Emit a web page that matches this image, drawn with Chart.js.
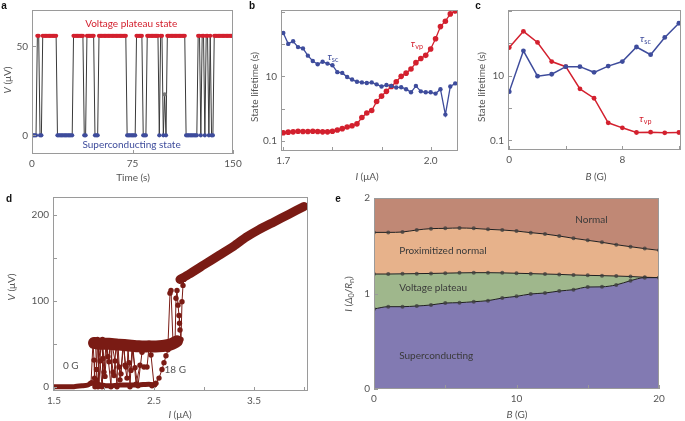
<!DOCTYPE html>
<html><head><meta charset="utf-8">
<script src="https://cdn.jsdelivr.net/npm/chart.js@4.4.1/dist/chart.umd.min.js"></script>
<style>
html,body{margin:0;padding:0;background:#fff;width:685px;height:421px;overflow:hidden}
canvas{position:absolute;left:0;top:0}
</style></head><body>
<canvas id="ca" width="685" height="421"></canvas>
<canvas id="cb" width="685" height="421"></canvas>
<canvas id="cc" width="685" height="421"></canvas>
<canvas id="cd" width="685" height="421"></canvas>
<canvas id="ce" width="685" height="421"></canvas>
<script>
// ---------------- DATA ----------------
// (a) voltage vs time, one sample per second (0..150 s)
const aStep = 1;
const aVoltage = [
 0,0,0,0,56,56,0,0,56,56,
 56,56,56,56,56,56,56,56,56,0,
 0,0,0,0,0,0,0,0,0,0,
 0,56,56,56,56,56,56,56,56,0,
 0,56,56,56,56,56,56,0,0,0,
 56,56,56,56,56,56,56,56,56,56,
 56,56,56,56,56,56,56,56,56,56,
 56,0,0,0,0,0,0,0,56,56,
 56,56,56,0,0,0,56,56,56,56,
 56,56,56,56,56,0,56,56,0,23,
 0,56,56,56,56,56,56,56,56,56,
 56,56,56,56,56,0,0,0,0,0,
 0,0,0,0,56,56,0,56,56,0,
 56,56,0,56,0,0,56,56,56,56,
 56,56,56,56,56,56,56,56,56,56,
 56];
const aXTicks = [0,75,150];
const aYTicks = [0,50];

// (b) state lifetime vs current
const bCurrent = [1.70,1.71,1.72,1.73,1.74,1.75,1.76,1.77,1.78,1.79,1.80,1.81,1.82,1.83,1.84,1.85,1.86,1.87,1.88,1.89,1.90,1.91,1.92,1.93,1.94,1.95,1.96,1.97,1.98,1.99,2.00,2.01,2.02,2.03,2.04,2.05];
const bTauSC = [222,102,123,81,74,44,30,23.8,28.5,24.9,22.2,13.5,12.8,9.55,7.95,6.8,6.5,6.2,6.5,5.65,4.82,5.4,5.05,4.5,4.6,4.0,3.2,5.05,3.43,3.2,3.2,2.92,4.0,0.65,4.82,6.05];
const bTauVP = [0.177,0.185,0.189,0.198,0.194,0.194,0.198,0.194,0.189,0.189,0.198,0.217,0.238,0.267,0.292,0.335,0.528,0.727,0.873,1.65,2.43,3.43,4.82,6.8,10,12.6,16.9,26.7,35.8,45,71,147,351,516,871,1070];
const bXTicks = [1.7,1.8,1.9,2.0];
const bXLabels = [1.7,2.0];

// (c) state lifetime vs field
const cField = [0,1,2,3,4,5,6,7,8,9,10,11,12];
const cTauSC = [3.2,58,9.6,11,18.8,18.8,12.6,19.6,27,76,44,150,410];
const cTauVP = [73,231,105,27,18.8,3.9,2.0,0.35,0.245,0.176,0.18,0.172,0.176];
const cXTicks = [0,4,8,12];
const cXLabels = [0,8];
const logTicks = [0.1,1,10,100,1000];
const logLabels = [0.1,10];

// (d) I-V curves, 0 G ... 18 G
const dBaseI = [1.50,1.60,1.70,1.78,1.84,1.88,1.91,1.96,2.05,2.15,2.25,2.35,2.45,2.51];
const dBaseV = [0,0,0,1,2,5,3,2,1,2,2,2,3,2];
const dPlatI = [1.90,1.95,2.05,2.15,2.25,2.35,2.45,2.55,2.62,2.68,2.73];
const dPlatV = [51,50,50,49,48,47,47,47,48,50,53];
const dUpI = [2.76,2.85,3.00,3.15,3.30,3.42,3.55,3.70,3.85,4.00];
const dUpV = [125,131,142,153,164,174,183,192,201,210];
const dSwLoI = [1.87,1.89,1.90,1.905,1.91,1.92,1.935,1.95,1.97,1.99,2.00,2.02,2.05,2.06,2.09,2.10,2.12,2.15,2.17,2.19,2.22,2.25,2.27,2.29,2.32,2.36,2.40,2.43,2.45,2.47,2.50];
const dSwLoV = [4,52,31,10,0,8,55,2,54,33,17,50,29,52,17,13,48,23,15,50,23,28,19,46,3,25,23,23,46,37,2];
const dSwLo2I = [1.915,1.925,1.94,1.945,1.96,1.98,1.985,2.01,2.03,2.04,2.07,2.08,2.11,2.13,2.14,2.16,2.20,2.21,2.23,2.24,2.26,2.28,2.31,2.34,2.38];
const dSwLo2V = [54,20,0,53,30,0,55,12,52,35,0,50,30,0,49,8,52,25,10,48,0,47,22,1,40];
const dSwHiI = [2.64,2.66,2.67,2.69,2.71,2.72,2.73,2.74,2.75,2.755,2.76,2.77,2.78,2.79,2.80];
const dSwHiV = [50,109,112,52,50,103,112,95,83,74,66,55,99,118,125];
const d18I = [2.48,2.52,2.55,2.58,2.60,2.62,2.64,2.66,2.68];
const d18V = [1,4,10,20,28,36,43,47,50];
const dXTicks = [1.5,2.0,2.5,3.0,3.5,4.0];
const dXLabels = [1.5,2.5,3.5];
const dYTicks = [0,50,100,150,200];
const dYLabels = [0,100,200];

// (e) phase diagram boundaries
const eField = [0,1,2,3,4,5,6,7,8,9,10,11,12,13,14,15,16,17,18,19,20];
const eLow = [0.838,0.862,0.862,0.869,0.88,0.90,0.904,0.914,0.925,0.953,0.97,0.995,1.005,1.026,1.04,1.068,1.07,1.09,1.134,1.166,1.166];
const eMid = [1.204,1.204,1.206,1.208,1.21,1.213,1.216,1.218,1.218,1.216,1.212,1.208,1.204,1.2,1.194,1.19,1.187,1.183,1.178,1.17,1.166];
const eTop = [1.64,1.64,1.644,1.665,1.679,1.682,1.686,1.682,1.672,1.665,1.654,1.637,1.623,1.602,1.578,1.557,1.536,1.511,1.49,1.47,1.452];
const eXTicks = [0,10,20];
const eYTicks = [0,1,2];

// ---------------- STYLE ----------------
const FONT = 'Lato, "Open Sans", sans-serif';
const TXT = '#555';
const FRAME = '#9a9a9a';
const RED = '#d3202e';
const BLUE = '#3e4c9c';
const MAROON = '#7a1b14';
Chart.defaults.font.family = FONT;
Chart.defaults.font.size = 10;
Chart.defaults.color = TXT;
Chart.defaults.animation = false;

function rich(ctx, parts, x, y, o) {
  o = o || {};
  const size = o.size || 10, fam = o.family || FONT;
  const has = (p, k) => p[1] && p[1].includes(k);
  const fontFor = p => `${has(p, 'i') ? 'italic ' : ''}${has(p, 'b') ? 'bold ' : ''}${has(p, 's') ? size * 0.72 : size}px ${fam}`;
  let w = 0;
  parts.forEach(p => { ctx.font = fontFor(p); w += ctx.measureText(p[0]).width; });
  ctx.save();
  ctx.translate(x, y);
  if (o.rot) ctx.rotate(o.rot);
  let cx = o.align === 'left' ? 0 : (o.align === 'right' ? -w : -w / 2);
  ctx.fillStyle = o.color || TXT;
  ctx.textBaseline = 'middle';
  ctx.textAlign = 'left';
  parts.forEach(p => {
    ctx.font = fontFor(p);
    ctx.fillText(p[0], cx, has(p, 's') ? size * 0.3 : 0);
    cx += ctx.measureText(p[0]).width;
  });
  ctx.restore();
}

const deco = {
  id: 'deco',
  afterDatasetsDraw(chart, args, o) {
    const { ctx, chartArea: a, scales } = chart;
    ctx.save();
    ctx.strokeStyle = FRAME; ctx.lineWidth = 1;
    const L = Math.round(a.left), T = Math.round(a.top), R = Math.round(a.right), B = Math.round(a.bottom);
    ctx.strokeRect(L + 0.5, T + 0.5, R - L - 1, B - T - 1);
    ctx.beginPath();
    (o.xTicks || []).forEach(v => {
      const px = Math.round(scales.x.getPixelForValue(v)) + 0.5;
      ctx.moveTo(px, B); ctx.lineTo(px, B - 4);
    });
    (o.yTicks || []).forEach(v => {
      const py = Math.round(scales.y.getPixelForValue(v)) + 0.5;
      ctx.moveTo(L, py); ctx.lineTo(L + 4, py);
    });
    ctx.stroke();
    ctx.restore();
    (o.texts || []).forEach(t => {
      rich(ctx, t.p, scales.x.getPixelForValue(t.x), scales.y.getPixelForValue(t.y), { color: t.c, align: t.align, size: t.size });
    });
  },
  afterDraw(chart, args, o) {
    const ctx = chart.ctx;
    (o.titles || []).forEach(t => rich(ctx, t.p, t.x, t.y, { rot: t.rot, size: t.size, color: t.c }));
    if (o.letter) rich(ctx, [[o.letter[0], 'b']], o.letter[1], o.letter[2], { color: '#111', size: 10, family: '"Liberation Sans", Arial, sans-serif' });
  }
};
Chart.register(deco);

function pad(L, T, R, B) { return { left: L - 30, top: T, right: 685 - R, bottom: 421 - B - 20 }; }
function axis(kind, min, max, labels, fmt, type) {
  return {
    type: type || 'linear', min, max,
    afterBuildTicks: s => { s.ticks = labels.map(v => ({ value: v })); },
    afterFit: s => { if (kind === 'x') s.height = 20; else s.width = 30; },
    grid: { display: false, drawTicks: false }, border: { display: false },
    ticks: { autoSkip: false, maxRotation: 0, padding: 4, color: TXT, font: { family: FONT, size: 10 }, callback: v => fmt(v) }
  };
}
function base(layout, xs, ys, decoOpts) {
  return {
    responsive: false, devicePixelRatio: 1, animation: false,
    layout: { padding: layout },
    plugins: { legend: { display: false }, tooltip: { enabled: false }, deco: decoOpts },
    scales: { x: xs, y: ys }
  };
}
const pts = (xs, ys) => xs.map((x, i) => ({ x, y: ys[i] }));
const S = v => String(v);

// ---------------- (a) ----------------
new Chart(document.getElementById('ca'), {
  type: 'line',
  data: { datasets: [{
    data: aVoltage.map((v, i) => ({ x: i * aStep, y: v })),
    borderColor: '#3a3a3a', borderWidth: 1, tension: 0,
    pointRadius: 2.1, pointBorderWidth: 0,
    pointBackgroundColor: c => (c.raw && c.raw.y > 40 ? RED : (c.raw && c.raw.y < 5 ? BLUE : '#777'))
  }] },
  options: base(pad(32, 3, 233, 154),
    axis('x', 0, 150, aXTicks, S), axis('y', -10.5, 70.5, aYTicks, S),
    { xTicks: aXTicks, yTicks: aYTicks,
      texts: [
        { p: [['Voltage plateau state']], x: 74, y: 62.5, c: RED },
        { p: [['Superconducting state']], x: 74.3, y: -5.4, c: BLUE }
      ],
      titles: [
        { p: [['V', 'i'], [' (μV)']], x: 8, y: 80, rot: -Math.PI / 2 },
        { p: [['Time (s)']], x: 133, y: 178 }
      ],
      letter: ['a', 4, 6]
    })
});

// ---------------- (b) ----------------
new Chart(document.getElementById('cb'), {
  type: 'line',
  data: { datasets: [
    { data: pts(bCurrent, bTauSC), borderColor: BLUE, backgroundColor: BLUE, borderWidth: 1.3, pointRadius: 2.2, pointBorderWidth: 0, tension: 0 },
    { data: pts(bCurrent, bTauVP), borderColor: RED, backgroundColor: RED, borderWidth: 1.3, pointRadius: 2.8, pointBorderWidth: 0, tension: 0 }
  ] },
  options: base(pad(281, 3, 458, 151),
    axis('x', 1.6953, 2.0557, bXLabels, v => v.toFixed(1)), axis('y', 0.0481, 1151, logLabels, S, 'logarithmic'),
    { xTicks: bXTicks, yTicks: logTicks,
      texts: [
        { p: [['τ', 'i'], ['sc', 's']], x: 1.801, y: 41, c: BLUE },
        { p: [['τ', 'i'], ['vp', 's']], x: 1.972, y: 100, c: RED }
      ],
      titles: [
        { p: [['State lifetime (s)']], x: 255, y: 87, rot: -Math.PI / 2 },
        { p: [['I', 'i'], [' (μA)']], x: 367, y: 177 }
      ],
      letter: ['b', 252, 6]
    })
});

// ---------------- (c) ----------------
new Chart(document.getElementById('cc'), {
  type: 'line',
  data: { datasets: [
    { data: pts(cField, cTauSC), borderColor: BLUE, backgroundColor: BLUE, borderWidth: 1.5, pointRadius: 2.4, pointBorderWidth: 0, tension: 0 },
    { data: pts(cField, cTauVP), borderColor: RED, backgroundColor: RED, borderWidth: 1.5, pointRadius: 2.4, pointBorderWidth: 0, tension: 0 }
  ] },
  options: base(pad(508, 3, 684, 150),
    axis('x', -0.09, 12.15, cXLabels, S), axis('y', 0.0508, 1050, logLabels, S, 'logarithmic'),
    { xTicks: cXTicks, yTicks: logTicks,
      texts: [
        { p: [['τ', 'i'], ['sc', 's']], x: 9.63, y: 140, c: BLUE },
        { p: [['τ', 'i'], ['vp', 's']], x: 9.63, y: 0.48, c: RED }
      ],
      titles: [
        { p: [['State lifetime (s)']], x: 482, y: 87, rot: -Math.PI / 2 },
        { p: [['B', 'i'], [' (G)']], x: 596, y: 177 }
      ],
      letter: ['c', 478, 6]
    })
});

// ---------------- (d) ----------------
const band = (xs, ys, w) => ({ data: pts(xs, ys), borderColor: MAROON, borderWidth: w, pointRadius: 0, tension: 0.2, borderCapStyle: 'round', borderJoinStyle: 'round' });
const thin = (xs, ys) => ({ data: pts(xs, ys), borderColor: MAROON, backgroundColor: MAROON, borderWidth: 1, pointRadius: 2.7, pointBorderWidth: 0, tension: 0 });
new Chart(document.getElementById('cd'), {
  type: 'line',
  data: { datasets: [
    band(dBaseI, dBaseV, 5),
    band(dPlatI, dPlatV, 12),
    band(dUpI, dUpV, 9),
    thin(dSwLoI, dSwLoV),
    thin(dSwLo2I, dSwLo2V),
    thin(dSwHiI, dSwHiV),
    thin(d18I, d18V)
  ] },
  options: base(pad(53, 197, 308, 391),
    axis('x', 1.49, 4.04, dXLabels, v => v.toFixed(1)), axis('y', -5, 221, dYLabels, S),
    { xTicks: dXTicks, yTicks: dYTicks,
      texts: [
        { p: [['0 G']], x: 1.668, y: 24, c: TXT },
        { p: [['18 G']], x: 2.713, y: 19.4, c: TXT }
      ],
      titles: [
        { p: [['V', 'i'], [' (μV)']], x: 12, y: 287, rot: -Math.PI / 2 },
        { p: [['I', 'i'], [' (μA)']], x: 180, y: 415 }
      ],
      letter: ['d', 9, 199]
    })
});

// ---------------- (e) ----------------
const eLine = (ys, fill, bg, show) => ({
  data: pts(eField, ys), fill, backgroundColor: bg,
  borderColor: show ? '#1e1e1e' : 'rgba(0,0,0,0)', borderWidth: show ? 1 : 0,
  pointRadius: show ? 2 : 0, pointBackgroundColor: 'rgba(60,60,60,0.75)', pointBorderWidth: 0,
  cubicInterpolationMode: 'monotone'
});
new Chart(document.getElementById('ce'), {
  type: 'line',
  data: { datasets: [
    eLine(eLow, 'start', '#827ab2', true),
    eLine(eMid, 0, '#9fb78c', true),
    eLine(eTop, 1, '#e7b28b', true),
    eLine(eTop, 'end', '#c08875', false)
  ] },
  options: base(pad(374, 198, 659, 389),
    axis('x', 0, 20, eXTicks, S), axis('y', 0, 2, eYTicks, S),
    { xTicks: [0, 5, 10, 15, 20], yTicks: [0, 1, 2],
      texts: [
        { p: [['Normal']], x: 15.26, y: 1.773, c: '#3a3a3a' },
        { p: [['Proximitized normal']], x: 1.77, y: 1.448, c: '#3a3a3a', align: 'left' },
        { p: [['Voltage plateau']], x: 1.77, y: 1.058, c: '#3a3a3a', align: 'left' },
        { p: [['Superconducting']], x: 1.77, y: 0.349, c: '#3a3a3a', align: 'left' }
      ],
      titles: [
        { p: [['I', 'i'], [' ('], ['Δ', 'i'], ['0', 's'], ['/'], ['R', 'i'], ['n', 's'], [')']], x: 349, y: 294, rot: -Math.PI / 2 },
        { p: [['B', 'i'], [' (G)']], x: 517, y: 415 }
      ],
      letter: ['e', 338, 199]
    })
});
</script>
</body></html>
